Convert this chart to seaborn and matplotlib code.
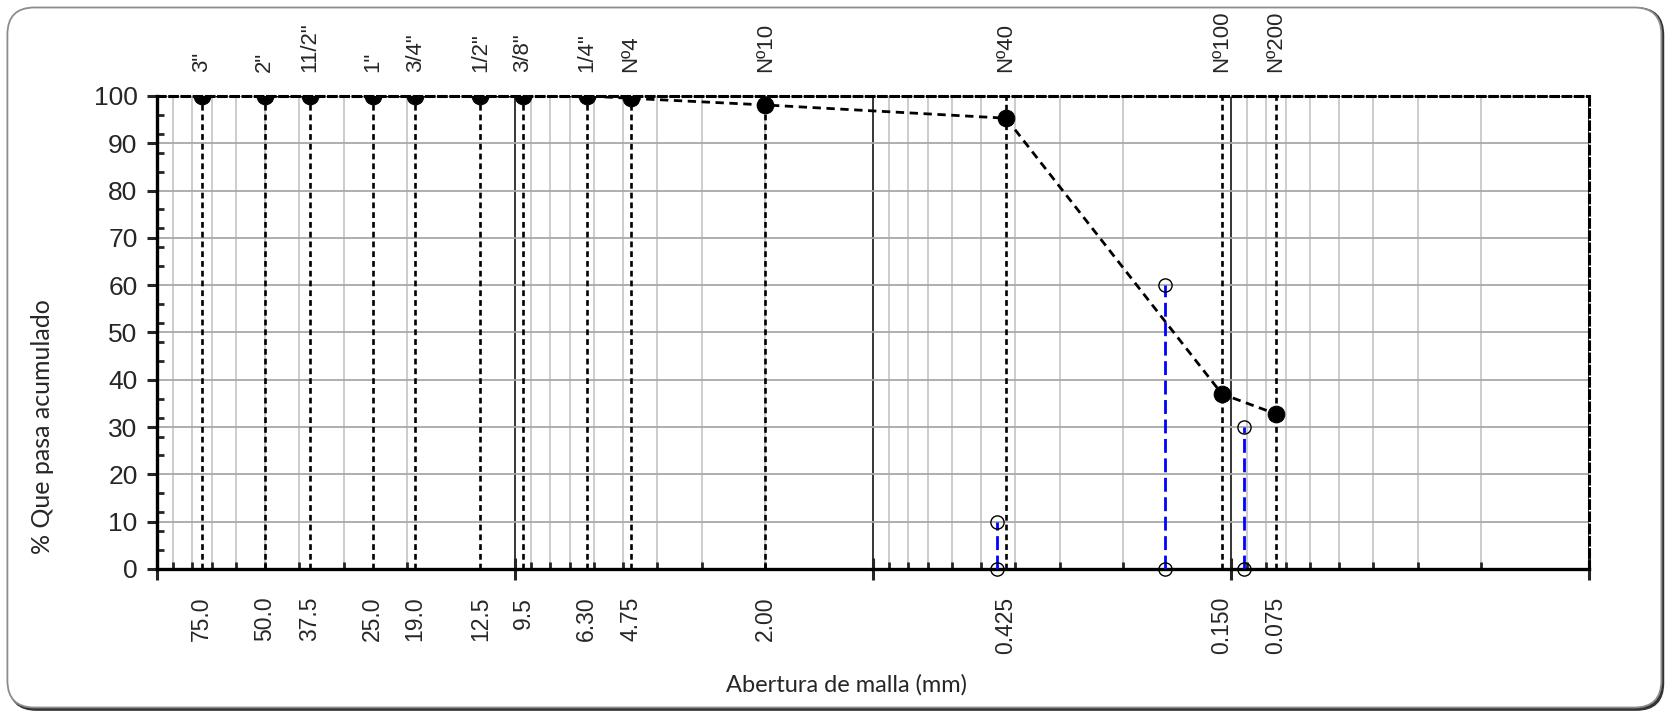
import numpy as np
import pandas as pd
import matplotlib
matplotlib.use("Agg")
import matplotlib.pyplot as plt
import seaborn as sns
from matplotlib.ticker import LogLocator, MultipleLocator, NullFormatter, NullLocator
from matplotlib.patches import FancyBboxPatch

# Sieve series: names, nominal opening labels, plotted openings (mm), % passing
sieve_names = ['3"', '2"', '11/2"', '1"', '3/4"', '1/2"', '3/8"', '1/4"',
               'Nº4', 'Nº10', 'Nº40', 'Nº100', 'Nº200']
opening_labels = ['75.0', '50.0', '37.5', '25.0', '19.0', '12.5', '9.5', '6.30',
                  '4.75', '2.00', '0.425', '0.150', '0.075']
opening_mm = [75.0, 50.0, 37.5, 25.0, 19.0, 12.5, 9.5, 6.3,
              4.75, 2.0, 0.425, 0.106, 0.075]
pct_passing = [100, 100, 100, 100, 100, 100, 100, 100,
               99.5, 98.1, 95.3, 37.0, 32.8]

# Characteristic diameters D10, D30, D60
d_names = ['D10', 'D30', 'D60']
d_mm = [0.450, 0.0922, 0.1527]
d_pct = [10, 30, 60]

sns.set_style("white")
plt.rcParams['font.family'] = ['Liberation Sans', 'DejaVu Sans']

df = pd.DataFrame({'abertura': opening_mm, 'pasa': pct_passing})

fig = plt.figure(figsize=(16.67, 7.13), dpi=100)
fig.patch.set_facecolor('white')

# rounded frame with a dark drop edge
shadow = FancyBboxPatch((0.094, 0.03), 16.54, 7.02,
                        boxstyle="round,pad=0,rounding_size=0.27",
                        transform=fig.dpi_scale_trans, facecolor='#333333',
                        edgecolor='#333333', lw=1.2, zorder=-20)
frame = FancyBboxPatch((0.074, 0.055), 16.54, 7.0,
                       boxstyle="round,pad=0,rounding_size=0.27",
                       transform=fig.dpi_scale_trans, facecolor='white',
                       edgecolor='#8c8c8c', lw=1.3, zorder=-10)
fig.patches.extend([shadow, frame])

ax = fig.add_axes([0.0942, 0.2020, 0.8590, 0.6634])
ax.set_facecolor('none')
ax.set_xscale('log')
ax.set_xlim(100, 0.01)
ax.set_ylim(0, 100)
ax.set_axisbelow(True)

# grid: horizontal every 10 %, log minor verticals, decade lines in black
ax.yaxis.set_major_locator(MultipleLocator(10))
ax.yaxis.set_minor_locator(MultipleLocator(4))
ax.xaxis.set_major_locator(LogLocator(base=10, numticks=10))
ax.xaxis.set_minor_locator(LogLocator(base=10, subs=np.arange(2, 10), numticks=40))
ax.xaxis.set_major_formatter(NullFormatter())
ax.xaxis.set_minor_formatter(NullFormatter())
ax.grid(axis='y', which='major', color='#a8a8a8', lw=1.3)
ax.grid(axis='x', which='minor', color='#c4c4c4', lw=1.2)
ax.grid(axis='x', which='major', color='black', lw=1.1)

ax.tick_params(axis='x', which='major', direction='inout', length=16, width=2.2,
               bottom=True, top=False, labelbottom=False)
ax.tick_params(axis='x', which='minor', direction='in', length=5, width=2,
               bottom=True, top=False)
ax.tick_params(axis='y', which='major', direction='out', length=7, width=2.2,
               labelsize=19, pad=7, left=True, right=False)
ax.tick_params(axis='y', which='minor', direction='in', length=5, width=2,
               left=True, right=False)

for side in ['left', 'bottom']:
    ax.spines[side].set_linewidth(2.4)
    ax.spines[side].set_color('black')
for side in ['top', 'right']:
    ax.spines[side].set_linewidth(2.2)
    ax.spines[side].set_linestyle((0, (2.5, 1.5)))
    ax.spines[side].set_color('black')

# sieve verticals
for x in opening_mm:
    ax.axvline(x, color='black', lw=1.9, ls=(0, (2.2, 1.5)), zorder=2)

# characteristic diameters
for x, p in zip(d_mm, d_pct):
    ax.plot([x, x], [0, p], color='#0000ff', lw=2.0, ls=(0, (5, 2)), zorder=3)
    ax.plot([x, x], [0, p], ls='none', marker='o', ms=9.5, mfc='none',
            mec='black', mew=1.0, zorder=5, clip_on=False)

# grading curve
sns.lineplot(data=df, x='abertura', y='pasa', sort=False, estimator=None,
             color='black', lw=2.0, linestyle=(0, (3, 2)), marker='o',
             markersize=12, markeredgecolor='black', ax=ax, zorder=4,
             legend=False)
ax.set_xlabel('')
ax.set_ylabel('')

# opening labels below, sieve names above
sec_b = ax.secondary_xaxis('bottom')
sec_b.set_xticks(opening_mm, labels=opening_labels)
sec_b.xaxis.set_minor_locator(NullLocator())
sec_b.tick_params(length=0, pad=20, labelsize=16.5, labelrotation=90)
sec_b.spines['bottom'].set_visible(False)

sec_t = ax.secondary_xaxis('top')
sec_t.set_xticks(opening_mm, labels=sieve_names)
sec_t.xaxis.set_minor_locator(NullLocator())
sec_t.tick_params(length=0, pad=17, labelsize=16, labelrotation=90)
sec_t.spines['top'].set_visible(False)

fig.text(0.508, 0.040, 'Abertura de malla (mm)', family=['Lato', 'DejaVu Sans'],
         fontsize=17, ha='center', va='center')
fig.text(0.0255, 0.402, '% Que pasa acumulado', family=['Lato', 'DejaVu Sans'],
         fontsize=18, rotation=90, ha='center', va='center')

fig.savefig('out.png', dpi=100, facecolor='white')
